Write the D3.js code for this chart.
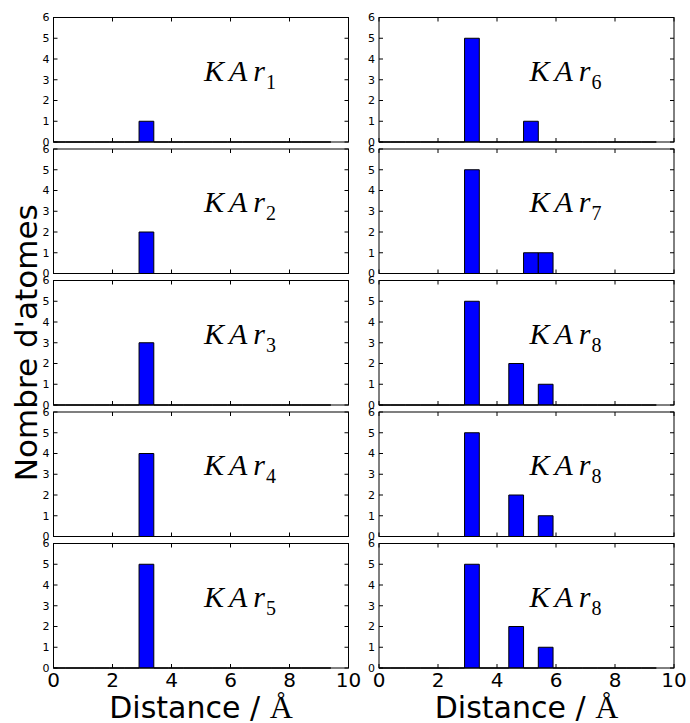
<!DOCTYPE html>
<html>
<head>
<meta charset="utf-8">
<script src="https://cdn.jsdelivr.net/npm/d3@7"></script>
<style>
  html, body { margin: 0; padding: 0; background: #fff; }
  svg { display: block; }
</style>
</head>
<body>
<div id="chart"></div>
<script>
// ---- data ----
const binEdges = [-0.1, 0.4, 0.9, 1.4, 1.9, 2.4, 2.9, 3.4, 3.9, 4.4, 4.9, 5.4, 5.9, 6.4, 6.9, 7.4, 7.9, 8.4, 8.9, 9.4];
const panelNames = ["1", "2", "3", "4", "5", "6", "7", "8", "8", "8"];
const countsKAr1 = [0,0,0,0,0,0,1,0,0,0,0,0,0,0,0,0,0,0,0];
const countsKAr2 = [0,0,0,0,0,0,2,0,0,0,0,0,0,0,0,0,0,0,0];
const countsKAr3 = [0,0,0,0,0,0,3,0,0,0,0,0,0,0,0,0,0,0,0];
const countsKAr4 = [0,0,0,0,0,0,4,0,0,0,0,0,0,0,0,0,0,0,0];
const countsKAr5 = [0,0,0,0,0,0,5,0,0,0,0,0,0,0,0,0,0,0,0];
const countsKAr6 = [0,0,0,0,0,0,5,0,0,0,1,0,0,0,0,0,0,0,0];
const countsKAr7 = [0,0,0,0,0,0,5,0,0,0,1,1,0,0,0,0,0,0,0];
const countsKAr8a = [0,0,0,0,0,0,5,0,0,2,0,1,0,0,0,0,0,0,0];
const countsKAr8b = [0,0,0,0,0,0,5,0,0,2,0,1,0,0,0,0,0,0,0];
const countsKAr8c = [0,0,0,0,0,0,5,0,0,2,0,1,0,0,0,0,0,0,0];
const xTicks = [0, 2, 4, 6, 8, 10];
const yTicks = [0, 1, 2, 3, 4, 5, 6];
const xLabelText = "Distance / ";
const xLabelUnit = "Å";
const yLabel = "Nombre d'atomes";

const allCounts = [countsKAr1, countsKAr2, countsKAr3, countsKAr4, countsKAr5,
                   countsKAr6, countsKAr7, countsKAr8a, countsKAr8b, countsKAr8c];

// ---- layout ----
const W = 690, H = 723;
const colX0 = [53.5, 379];
const panelW = 295;
const top0 = 17.5, panelH = 124.5, pitch = 131.5;
const tickLen = 4;

const svg = d3.select("#chart").append("svg").attr("width", W).attr("height", H);
const defs = svg.append("defs");

allCounts.forEach((counts, idx) => {
  const col = idx < 5 ? 0 : 1;
  const row = idx % 5;
  const x0 = colX0[col];
  const y0 = top0 + row * pitch;
  const x = d3.scaleLinear().domain([0, 10]).range([x0, x0 + panelW]);
  const y = d3.scaleLinear().domain([0, 6]).range([y0 + panelH, y0]);

  const g = svg.append("g");
  const clipId = "clip" + idx;
  defs.append("clipPath").attr("id", clipId).append("rect")
    .attr("x", x0).attr("y", y0 - 1).attr("width", panelW).attr("height", panelH + 2);

  // bars (histogram patches)
  const bars = counts.map((c, i) => ({ a: binEdges[i], b: binEdges[i + 1], c }));
  g.append("g").attr("clip-path", `url(#${clipId})`)
    .selectAll("path").data(bars).join("path")
    .attr("d", d => `M${x(d.a)},${y(0)}V${y(d.c)}H${x(d.b)}V${y(0)}Z`)
    .attr("fill", "#0000ff")
    .attr("stroke", "#000")
    .attr("stroke-width", 1);

  // label
  const t = g.append("text")
    .attr("x", x(5))
    .attr("dx", 3)
    .attr("y", y(3) + 1)
    .attr("font-family", "'Liberation Serif', 'DejaVu Serif', serif")
    .attr("font-style", "italic")
    .attr("font-size", 30)
    .attr("fill", "#000");
  t.append("tspan").attr("letter-spacing", 5).text("KA");
  t.append("tspan").attr("dx", 1).text("r");
  t.append("tspan").attr("dx", 1).attr("dy", 8).attr("font-style", "normal")
    .attr("font-size", 20).text(panelNames[idx]);

  // spines
  g.append("rect").attr("x", x0).attr("y", y0).attr("width", panelW).attr("height", panelH)
    .attr("fill", "none").attr("stroke", "#000").attr("stroke-width", 1);

  // ticks (inside, all four sides)
  const xt = g.append("g").attr("stroke", "#000").attr("stroke-width", 1);
  xTicks.forEach(v => {
    xt.append("line").attr("x1", x(v)).attr("x2", x(v)).attr("y1", y0 + panelH).attr("y2", y0 + panelH - tickLen);
    xt.append("line").attr("x1", x(v)).attr("x2", x(v)).attr("y1", y0).attr("y2", y0 + tickLen);
  });
  yTicks.forEach(v => {
    xt.append("line").attr("x1", x0).attr("x2", x0 + tickLen).attr("y1", y(v)).attr("y2", y(v));
    xt.append("line").attr("x1", x0 + panelW).attr("x2", x0 + panelW - tickLen).attr("y1", y(v)).attr("y2", y(v));
  });

  // y tick labels
  g.append("g").selectAll("text").data(yTicks).join("text")
    .attr("x", x0 - 4)
    .attr("y", d => y(d))
    .attr("dy", "0.36em")
    .attr("text-anchor", "end")
    .attr("font-family", "'DejaVu Sans', sans-serif")
    .attr("font-size", 11)
    .attr("fill", "#000")
    .text(d => d);

  // x tick labels and axis title on bottom row
  if (row === 4) {
    g.append("g").selectAll("text").data(xTicks).join("text")
      .attr("x", d => x(d))
      .attr("y", y0 + panelH + 19)
      .attr("text-anchor", "middle")
      .attr("font-family", "'DejaVu Sans', sans-serif")
      .attr("font-size", 20)
      .attr("fill", "#000")
      .text(d => d);
    const xl = g.append("text")
      .attr("x", x0 + panelW / 2)
      .attr("y", 718)
      .attr("text-anchor", "middle")
      .attr("font-family", "'DejaVu Sans', sans-serif")
      .attr("font-size", 30)
      .attr("fill", "#000");
    xl.append("tspan").text(xLabelText);
    xl.append("tspan").attr("font-family", "'Liberation Serif', 'DejaVu Serif', serif")
      .attr("font-size", 32).text(xLabelUnit);
  }
});

// y label
svg.append("text")
  .attr("transform", `translate(37,${top0 + (4 * pitch + panelH) / 2}) rotate(-90)`)
  .attr("text-anchor", "middle")
  .attr("font-family", "'DejaVu Sans', sans-serif")
  .attr("font-size", 31)
  .attr("fill", "#000")
  .text(yLabel);
</script>
</body>
</html>
